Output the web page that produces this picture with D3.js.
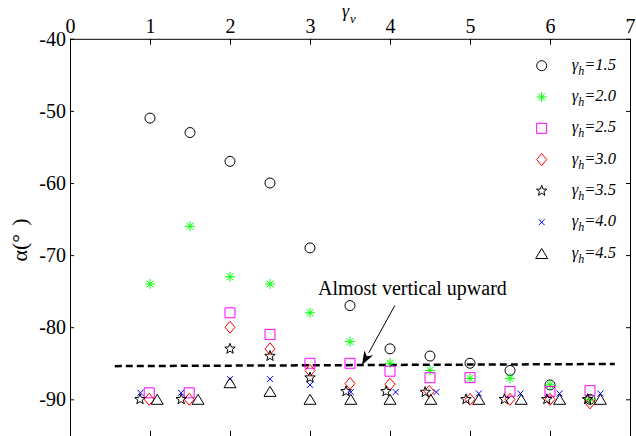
<!DOCTYPE html>
<html>
<head>
<meta charset="utf-8">
<script src="https://cdn.jsdelivr.net/npm/d3@7"></script>
<style>
  html, body { margin: 0; padding: 0; background: #fff; }
  svg { display: block; }
</style>
</head>
<body>
<div id="chart"></div>
<script>
// gamma_v positions (some markers were nudged sideways in the original so they don't overlap)
const gammaV = [1, 1.5, 2, 2.5, 3, 3.5, 4, 4.5, 5, 5.5, 6, 6.5]

const xH15 = gammaV
const alphaH15 = [-51, -53, -57, -60, -69, -77, -83, -84, -85, -86, -88, -90]

const xH20 = gammaV
const alphaH20 = [-74, -66, -73, -74, -78, -82, -85, -86, -87.1, -87.1, -88, -90]

const xH25 = [0.99, 1.49, 2, 2.5, 3, 3.5, 4, 4.5, 5, 5.5, 6, 6.5]
const alphaH25 = [-89.1, -89.1, -78, -81, -85, -85, -86.1, -87, -87, -88.9, -88.9, -88.8]

const xH30 = [0.99, 1.49, 2, 2.5, 3, 3.5, 4, 4.49, 5, 5.5, 6, 6.5]
const alphaH30 = [-90, -90, -80, -83, -86, -87.8, -87.9, -88.9, -90, -90, -90, -90.5]

const xH35 = [0.875, 1.39, 2, 2.5, 3, 3.45, 3.95, 4.44, 4.95, 5.43, 5.96, 6.47]
const alphaH35 = [-90, -90, -83, -84, -87, -88.9, -88.9, -89, -90, -90, -90, -90]

const xH40 = [0.88, 1.39, 2, 2.5, 3, 3.51, 4.07, 4.58, 5.11, 5.63, 6.12, 6.63]
const alphaH40 = [-89.1, -89.1, -87.2, -87.2, -88, -89, -89, -89, -89.2, -89.2, -89.2, -89.2]

const xH45 = [1.09, 1.6, 2, 2.5, 3, 3.51, 4, 4.51, 5.11, 5.64, 6.12, 6.63]
const alphaH45 = [-90, -90, -87.7, -88.9, -90, -90, -90, -90, -90, -90, -90, -90]

const legendLabels = ['1.5', '2.0', '2.5', '3.0', '3.5', '4.0', '4.5']
const xTicks = [0, 1, 2, 3, 4, 5, 6, 7]
const yTicks = [-40, -50, -60, -70, -80, -90]

// annotation (data coords)
const dashX = [0.56, 6.81]
const dashY = [-85.4, -85.1]
const arrowFrom = [4.06, -77.0]
const arrowTo = [3.65, -85.25]
const noteText = 'Almost vertical upward'
const notePos = [3.1, -75.6]

const width = 636
const height = 436

const x = d3.scaleLinear().domain([0, 7]).range([70, 630])
const y = d3.scaleLinear().domain([-95.2, -40]).range([436.8, 38.8])

// marker shapes
function starPath(ro, ri) {
    let p = ''
    for (let i = 0; i < 10; i++) {
        let r = i % 2 == 0 ? ro : ri
        let a = -Math.PI / 2 + i * Math.PI / 5
        p += (i == 0 ? 'M' : 'L') + (r * Math.cos(a)).toFixed(2) + ',' + (r * Math.sin(a)).toFixed(2)
    }
    return p + 'Z'
}

const shapes = {
    circle: 'M5,0A5,5 0 1,1 -5,0A5,5 0 1,1 5,0Z',
    asterisk: 'M-5,0L5,0M0,-5L0,5M-3.5,-3.5L3.5,3.5M-3.5,3.5L3.5,-3.5',
    square: 'M-5,-5L5,-5L5,5L-5,5Z',
    diamond: 'M0,-6L5,0L0,6L-5,0Z',
    star: starPath(5.5, 2.3),
    cross: 'M-3,-3L3,3M-3,3L3,-3',
    triangle: 'M0,-5L6,5L-6,5Z'
}

const series = [
    { xs: xH15, ys: alphaH15, shape: 'circle', color: '#000000' },
    { xs: xH20, ys: alphaH20, shape: 'asterisk', color: '#00ff00' },
    { xs: xH25, ys: alphaH25, shape: 'square', color: '#ff00ff' },
    { xs: xH30, ys: alphaH30, shape: 'diamond', color: '#ff0000' },
    { xs: xH35, ys: alphaH35, shape: 'star', color: '#000000' },
    { xs: xH40, ys: alphaH40, shape: 'cross', color: '#0000ff' },
    { xs: xH45, ys: alphaH45, shape: 'triangle', color: '#000000' }
]

const svg = d3.select('#chart')
    .append('svg')
    .attr('width', width)
    .attr('height', height)
    .style('font-family', '"Liberation Serif", "Times New Roman", serif')

// axes (ticks inside, MATLAB style)
let axTop = svg.append('g')
    .attr('transform', `translate(0,${y(-40)})`)
    .call(d3.axisTop(x).tickValues(xTicks).tickSizeInner(-6).tickSizeOuter(0).tickPadding(5.6).tickFormat(d => String(d)))

let axBottom = svg.append('g')
    .attr('transform', `translate(0,${y(-95.2)})`)
    .call(d3.axisBottom(x).tickValues(xTicks).tickSizeInner(-6).tickSizeOuter(0).tickFormat(''))

let axLeft = svg.append('g')
    .attr('transform', `translate(${x(0)},0)`)
    .call(d3.axisLeft(y).tickValues(yTicks).tickSizeInner(-4).tickSizeOuter(0).tickPadding(4).tickFormat(d => String(d)))

let axRight = svg.append('g')
    .attr('transform', `translate(${x(7)},0)`)
    .call(d3.axisRight(y).tickValues(yTicks).tickSizeInner(-4).tickSizeOuter(0).tickFormat(''))

svg.selectAll('.domain').attr('stroke', '#000').attr('stroke-width', 1)
svg.selectAll('.tick line').attr('stroke', '#000').attr('stroke-width', 1)
svg.selectAll('.tick text')
    .attr('font-family', '"Liberation Serif", serif')
    .attr('font-size', 20)
    .attr('fill', '#000')

// axis titles
let xTitle = svg.append('text')
    .attr('x', 342)
    .attr('y', 17)
    .attr('font-size', 18)
    .attr('font-style', 'italic')
xTitle.append('tspan').text('γ')
xTitle.append('tspan').attr('font-size', 13).attr('dy', 6).attr('dx', 1).text('v')

let yTitle = svg.append('text')
    .attr('transform', 'translate(27,240) rotate(-90)')
    .attr('text-anchor', 'middle')
    .attr('font-size', 22)
yTitle.append('tspan').text('α(°')
yTitle.append('tspan').attr('dx', 8).text(')')

// dashed reference line
svg.append('line')
    .attr('x1', x(dashX[0]))
    .attr('y1', y(dashY[0]))
    .attr('x2', x(dashX[1]))
    .attr('y2', y(dashY[1]))
    .attr('stroke', '#000')
    .attr('stroke-width', 2.5)
    .attr('stroke-dasharray', '7,4')

// annotation arrow
const ax0 = x(arrowFrom[0]), ay0 = y(arrowFrom[1])
const ax1 = x(arrowTo[0]), ay1 = y(arrowTo[1])
const ang = Math.atan2(ay1 - ay0, ax1 - ax0)
const headLen = 14, headW = 5
const bx = ax1 - headLen * Math.cos(ang), by = ay1 - headLen * Math.sin(ang)

svg.append('line')
    .attr('x1', ax0).attr('y1', ay0)
    .attr('x2', bx).attr('y2', by)
    .attr('stroke', '#000')
    .attr('stroke-width', 1)

svg.append('path')
    .attr('d', `M${ax1},${ay1}L${bx + headW * Math.sin(ang)},${by - headW * Math.cos(ang)}L${bx + 4 * Math.cos(ang)},${by + 4 * Math.sin(ang)}L${bx - headW * Math.sin(ang)},${by + headW * Math.cos(ang)}Z`)
    .attr('fill', '#000')

svg.append('text')
    .attr('x', x(notePos[0]))
    .attr('y', y(notePos[1]))
    .attr('font-size', 20)
    .text(noteText)

// data markers
series.forEach(function (s) {
    svg.append('g')
        .selectAll('path')
        .data(s.xs.map((v, i) => [v, s.ys[i]]))
        .join('path')
        .attr('transform', d => `translate(${x(d[0])},${y(d[1])})`)
        .attr('d', shapes[s.shape])
        .attr('fill', 'none')
        .attr('stroke', s.color)
        .attr('stroke-width', 1)
})

// legend
const legendX = 541.7
const legendY0 = 65.7
const legendStep = 31.3

let legend = svg.append('g')
    .selectAll('g')
    .data(series)
    .join('g')
    .attr('transform', (d, i) => `translate(${legendX},${legendY0 + i * legendStep})`)

legend.append('path')
    .attr('d', d => shapes[d.shape])
    .attr('fill', 'none')
    .attr('stroke', d => d.color)
    .attr('stroke-width', 1)

let legendText = legend.append('text')
    .attr('x', 30)
    .attr('y', 4)
    .attr('font-size', 16.5)
    .attr('font-style', 'italic')

legendText.append('tspan').text('γ')
legendText.append('tspan').attr('font-size', 12).attr('dy', 5).text('h')
legendText.append('tspan').attr('dy', -5).text((d, i) => '=' + legendLabels[i])
</script>
</body>
</html>
